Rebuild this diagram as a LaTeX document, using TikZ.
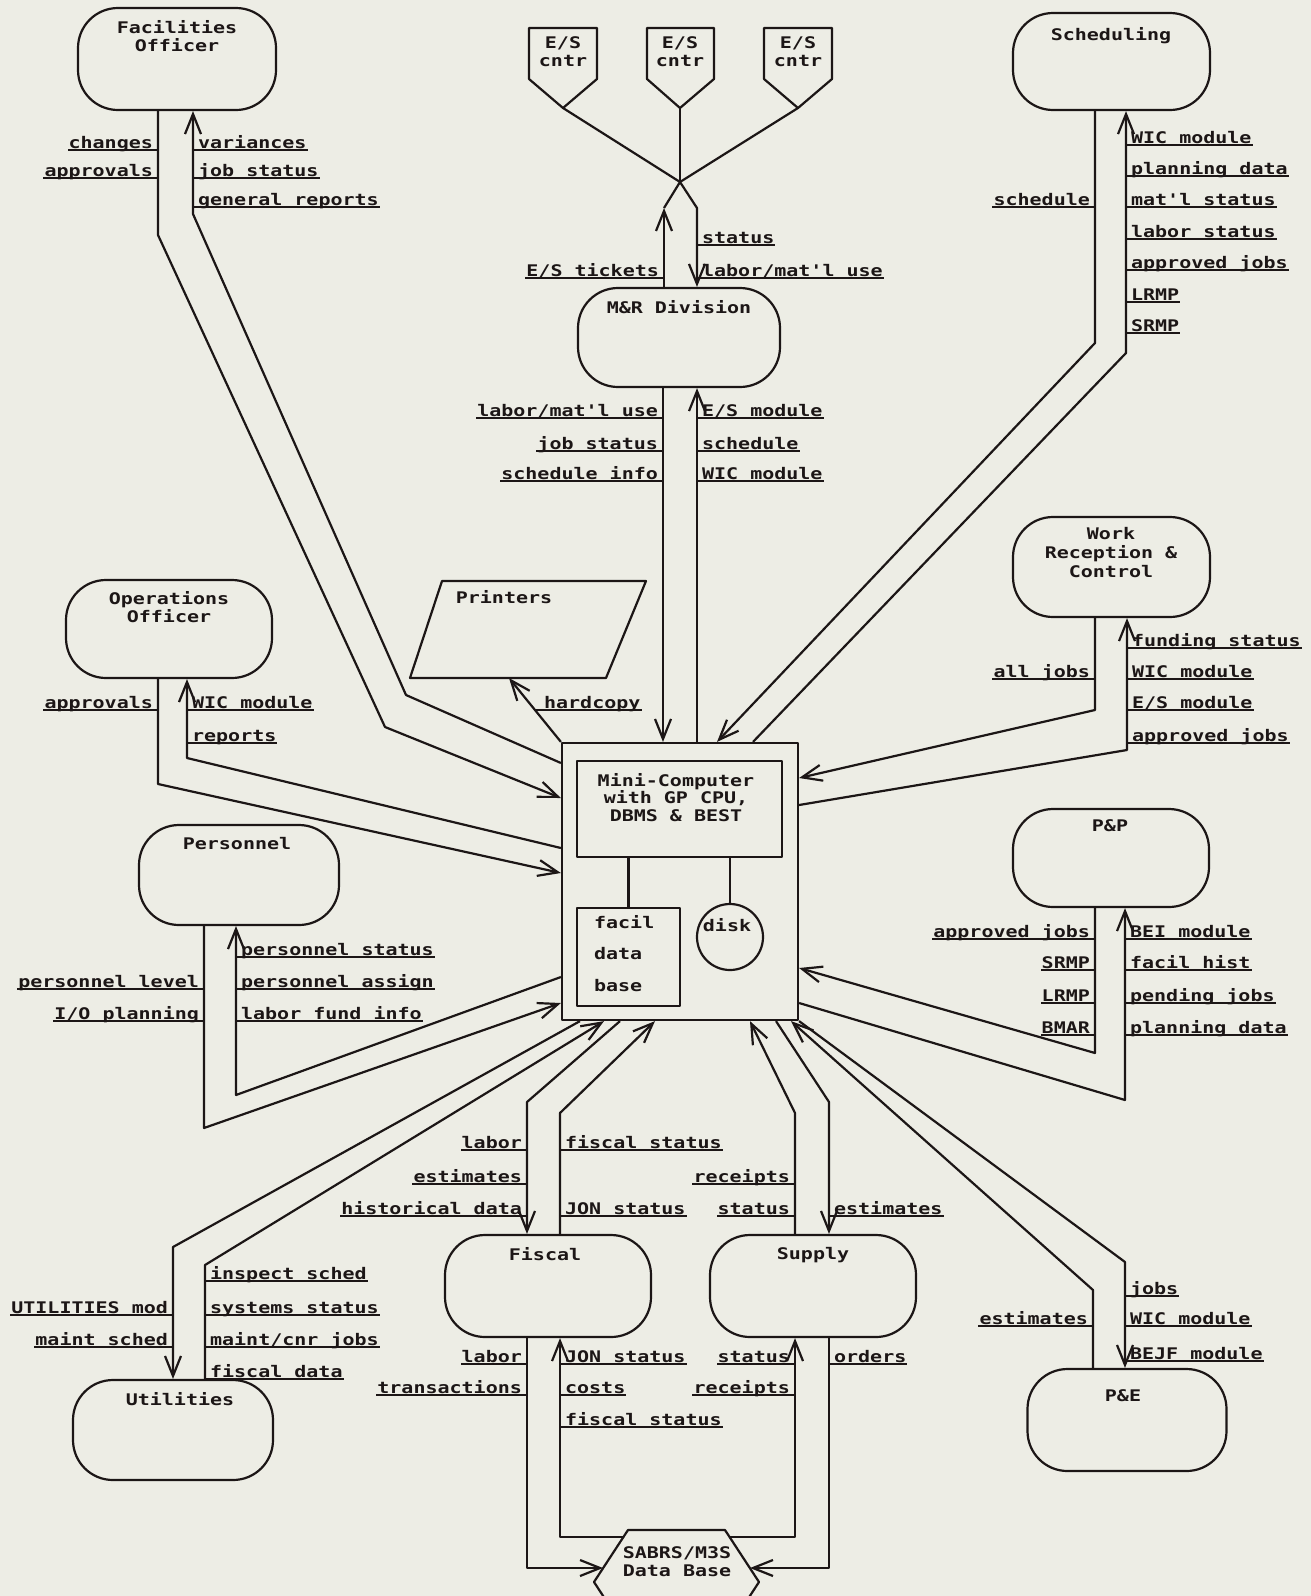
\documentclass[tikz,border=0pt]{standalone}
\usepackage{fontspec}
\newfontfamily\mono[FakeStretch=1.25]{DejaVu Sans Mono}
\usetikzlibrary{arrows.meta}
\definecolor{paper}{RGB}{237,237,229}
\definecolor{ink}{RGB}{28,22,22}
\tikzset{
  term/.style={draw=ink, rounded corners=20pt, inner sep=0pt},
  title/.style={font=\mono\bfseries\fontsize{8}{9}\selectfont, text=ink, align=center, inner sep=0pt},
  lab/.style={font=\mono\bfseries\fontsize{8}{9}\selectfont, text=ink, inner sep=0pt},
  arr/.style={-{Straight Barb[length=10pt,width=8pt]}},
  box/.style={draw=ink, inner sep=0pt},
}
% underlined flow label to the right / left of a pipe wall at x=#2, underline at y=#3
\newcommand\labR[4]{\coordinate (#1u) at (#2,#3);
  \node[lab, anchor=base west] (#1) at (#2+4,#3-2) {#4};
  \draw (#1u) -- (#1u -| #1.east);}
\newcommand\labL[4]{\coordinate (#1u) at (#2,#3);
  \node[lab, anchor=base east] (#1) at (#2-4,#3-2) {#4};
  \draw (#1u) -- (#1u -| #1.west);}

\begin{document}
\begin{tikzpicture}[x=0.5pt,y=-0.5pt,line width=1.1pt,color=ink,line join=round]
\fill[paper] (0,0) rectangle (1311,1596);
\useasboundingbox (0,0) rectangle (1311,1596);

% ---------- terminals ----------
\node[term, minimum width=99pt, minimum height=51pt] (fac) at (177,59) {};
\node[title, anchor=north] (facT) at (177,19) {Facilities\\Officer};
\node[term, minimum width=101pt, minimum height=49.5pt] (mr) at (679,337.5) {};
\node[title, anchor=north] (mrT) at (679,299) {M\&R Division};
\node[term, minimum width=98.5pt, minimum height=48.5pt] (sch) at (1111.5,61.5) {};
\node[title, anchor=north] (schT) at (1111,26) {Scheduling};
\node[term, minimum width=98.5pt, minimum height=50pt] (wrc) at (1111.5,567) {};
\node[title, anchor=north, font=\mono\bfseries\fontsize{8}{9.5}\selectfont] (wrcT) at (1111,526) {Work\\Reception \&\\Control};
\node[term, minimum width=103pt, minimum height=49pt] (ops) at (169,629) {};
\node[title, anchor=north] (opsT) at (169,590) {Operations\\Officer};
\node[term, minimum width=100pt, minimum height=50pt] (per) at (239,875) {};
\node[title, anchor=north] (perT) at (237,836) {Personnel};
\node[term, minimum width=98pt, minimum height=49pt] (pp) at (1111,858) {};
\node[title, anchor=north] (ppT) at (1110,819) {P\&P};
\node[term, minimum width=100pt, minimum height=50pt] (uti) at (173,1430) {};
\node[title, anchor=north] (utiT) at (180,1391) {Utilities};
\node[term, minimum width=103pt, minimum height=51pt] (fis) at (548,1286) {};
\node[title, anchor=north] (fisT) at (545,1246) {Fiscal};
\node[term, minimum width=103pt, minimum height=51pt] (sup) at (813,1286) {};
\node[title, anchor=north] (supT) at (813,1246) {Supply};
\node[term, minimum width=99.5pt, minimum height=51pt] (pe) at (1127,1420) {};
\node[title, anchor=north] (peT) at (1123,1389) {P\&E};

% ---------- central computer ----------
\node[box, minimum width=118pt, minimum height=138.5pt] (comp) at (680,881.5) {};
\node[box, minimum width=102.5pt, minimum height=48pt] (cpu) at (679.5,809) {};
\node[title, anchor=north, font=\mono\bfseries\fontsize{8}{8.75}\selectfont] (cpuT) at (676,772) {Mini-Computer\\with GP CPU,\\DBMS \& BEST};
\node[box, minimum width=51.5pt, minimum height=49pt] (fdb) at (628.5,957) {};
\node[title, anchor=north west, align=left, font=\mono\bfseries\fontsize{8}{15.75}\selectfont] (fdbT) at (593,914) {facil\\data\\base};
\node[box, circle, minimum size=33pt] (disk) at (730,937) {};
\node[title] (diskT) at (727,925) {disk};
\draw (cpu.south -| fdb.north) -- (fdb.north);
\draw (cpu.south -| disk.north) -- (disk.north);

% ---------- printers ----------
\draw (442,581) -- (646,581) -- (606,678) -- (410,678) -- cycle;
\coordinate (prn) at (509,678);
\node[title] (prnT) at (504,597) {Printers};
\draw[arr] (comp.north west) -- (prn);
\coordinate (hcu) at (536,710);
\node[lab, anchor=base west] (hc) at (543,708) {hardcopy};
\draw (hcu) -- (hcu -| hc.east);

% ---------- E/S centres ----------
\draw (529,28) -- (597,28) -- (597,79) -- (563,108) -- (529,79) -- cycle;
\draw (647,28) -- (714,28) -- (714,79) -- (680,108) -- (647,79) -- cycle;
\draw (764,28) -- (832,28) -- (832,79) -- (798,108) -- (764,79) -- cycle;
\coordinate (es1) at (563,108);
\coordinate (es2) at (680,108);
\coordinate (es3) at (798,108);
\node[title] (es1T) at (563,52) {E/S\\cntr};
\node[title] (es2T) at (680,52) {E/S\\cntr};
\node[title] (es3T) at (798,52) {E/S\\cntr};
\coordinate (jn) at (680,182);
\coordinate (jl) at (664,208);
\coordinate (jr) at (697,208);
\draw (es1) -- (jn);
\draw (es2) -- (jn);
\draw (es3) -- (jn);
\draw[arr] (mr.north -| jl) -- (jl);
\draw (jl) -- (jn);
\draw[arr] (jn) -- (jr) -- (mr.north -| jr);
\labR{es4}{697}{245}{status}
\labL{es5}{664}{278}{E/S tickets}
\labR{es6}{697}{278}{labor/mat'l use}

% ---------- pipes to the computer ----------
% Facilities Officer
\draw[arr] (fac.south -| 158,0) -- (158,235) -- (385,727) -- (comp.west |- 0,798);
\draw[arr] (comp.west |- 0,763) -- (406,695) -- (193,214) -- (fac.south -| 193,0);
% M&R Division
\draw[arr] (mr.south -| 663,0) -- (comp.north -| 663,0);
\draw[arr] (comp.north -| 697,0) -- (mr.south -| 697,0);
% Scheduling
\draw[arr] (sch.south -| 1095,0) -- (1095,343) -- (comp.north -| 717,0);
\draw[arr] (comp.north -| 753,0) -- (1126,353) -- (sch.south -| 1126,0);
% Work Reception & Control
\draw[arr] (wrc.south -| 1095,0) -- (1095,710) -- (comp.east |- 0,778);
\draw[arr] (comp.east |- 0,805) -- (1127,750) -- (wrc.south -| 1127,0);
% Operations Officer
\draw[arr] (ops.south -| 158,0) -- (158,784) -- (comp.west |- 0,873);
\draw[arr] (comp.west |- 0,848) -- (187,758) -- (ops.south -| 187,0);
% Personnel
\draw[arr] (per.south -| 204,0) -- (204,1128) -- (comp.west |- 0,1003);
\draw[arr] (comp.west |- 0,977) -- (236,1095) -- (per.south -| 236,0);
% P&P
\draw[arr] (pp.south -| 1095,0) -- (1095,1053) -- (comp.east |- 0,968);
\draw[arr] (comp.east |- 0,1003) -- (1125,1100) -- (pp.south -| 1125,0);
% Utilities
\draw[arr] (comp.south -| 580,0) -- (173,1247) -- (uti.north -| 173,0);
\draw[arr] (uti.north -| 205,0) -- (205,1265) -- (comp.south -| 604,0);
% Fiscal
\draw[arr] (comp.south -| 620,0) -- (527,1102) -- (fis.north -| 527,0);
\draw[arr] (fis.north -| 560,0) -- (560,1113) -- (comp.south -| 655,0);
% Supply
\draw[arr] (sup.north -| 795,0) -- (795,1113) -- (comp.south -| 750,0);
\draw[arr] (comp.south -| 776,0) -- (829,1102) -- (sup.north -| 829,0);
% P&E
\draw[arr] (pe.north -| 1093,0) -- (1093,1290) -- (comp.south -| 791,0);
\draw[arr] (comp.south east) -- (1125,1262) -- (pe.north -| 1125,0);

% ---------- SABRS/M3S data base (runs off the lower edge) ----------
\begin{scope}
\clip (0,0) rectangle (1311,1596);
\draw (628,1530) -- (725,1530) -- (759,1582) -- (725,1634) -- (628,1634) -- (594,1582) -- cycle;
\end{scope}
\coordinate (sbL) at (603,1568);
\coordinate (sbR) at (750,1568);
\coordinate (sbTL) at (623,1537);
\coordinate (sbTR) at (730,1537);
\node[title, anchor=north] (sbT) at (677,1546) {SABRS/M3S\\Data Base};
\draw[arr] (fis.south -| 527,0) -- (527,1568) -- (sbL);
\draw[arr] (sbTL) -- (560,1537) -- (fis.south -| 560,0);
\draw[arr] (sbTR) -- (795,1537) -- (sup.south -| 795,0);
\draw[arr] (sup.south -| 829,0) -- (829,1568) -- (sbR);

% ---------- flow labels ----------
\labL{fa1}{158}{150}{changes}
\labL{fa2}{158}{178}{approvals}
\labR{fa3}{193}{150}{variances}
\labR{fa4}{193}{178}{job status}
\labR{fa5}{193}{207}{general reports}

\labL{mr1}{663}{418}{labor/mat'l use}
\labL{mr2}{663}{451}{job status}
\labL{mr3}{663}{481}{schedule info}
\labR{mr4}{697}{418}{E/S module}
\labR{mr5}{697}{451}{schedule}
\labR{mr6}{697}{481}{WIC module}

\labR{sc1}{1126}{145}{WIC module}
\labR{sc2}{1126}{176}{planning data}
\labR{sc3}{1126}{207}{mat'l status}
\labR{sc4}{1126}{239}{labor status}
\labR{sc5}{1126}{270}{approved jobs}
\labR{sc6}{1126}{302}{LRMP}
\labR{sc7}{1126}{333}{SRMP}
\labL{sc8}{1095}{207}{schedule}

\labR{wr1}{1127}{648}{funding status}
\labR{wr2}{1127}{679}{WIC module}
\labR{wr3}{1127}{710}{E/S module}
\labR{wr4}{1127}{743}{approved jobs}
\labL{wr5}{1095}{679}{all jobs}

\labL{op1}{158}{710}{approvals}
\labR{op2}{187}{710}{WIC module}
\labR{op3}{187}{743}{reports}

\labR{pe1}{236}{957}{personnel status}
\labR{pe2}{236}{989}{personnel assign}
\labR{pe3}{236}{1021}{labor fund info}
\labL{pe4}{204}{989}{personnel level}
\labL{pe5}{204}{1021}{I/O planning}

\labL{pp1}{1095}{939}{approved jobs}
\labL{pp2}{1095}{970}{SRMP}
\labL{pp3}{1095}{1003}{LRMP}
\labL{pp4}{1095}{1035}{BMAR}
\labR{pp5}{1125}{939}{BEI module}
\labR{pp6}{1125}{970}{facil hist}
\labR{pp7}{1125}{1003}{pending jobs}
\labR{pp8}{1125}{1035}{planning data}

\labR{ut1}{205}{1281}{inspect sched}
\labR{ut2}{205}{1315}{systems status}
\labR{ut3}{205}{1347}{maint/cnr jobs}
\labR{ut4}{205}{1379}{fiscal data}
\labL{ut5}{173}{1315}{UTILITIES mod}
\labL{ut6}{173}{1347}{maint sched}

\labL{fs1}{527}{1150}{labor}
\labL{fs2}{527}{1184}{estimates}
\labL{fs3}{527}{1216}{historical data}
\labR{fs4}{560}{1150}{fiscal status}
\labR{fs5}{560}{1216}{JON status}

\labL{su1}{795}{1184}{receipts}
\labL{su2}{795}{1216}{status}
\labR{su3}{829}{1216}{estimates}

\labL{fb1}{527}{1364}{labor}
\labL{fb2}{527}{1395}{transactions}
\labR{fb3}{560}{1364}{JON status}
\labR{fb4}{560}{1395}{costs}
\labR{fb5}{560}{1427}{fiscal status}

\labL{sb1}{795}{1364}{status}
\labL{sb2}{795}{1395}{receipts}
\labR{sb3}{829}{1364}{orders}

\labR{en1}{1125}{1296}{jobs}
\labR{en2}{1125}{1326}{WIC module}
\labR{en3}{1125}{1361}{BEJF module}
\labL{en4}{1093}{1326}{estimates}
\end{tikzpicture}
\end{document}
